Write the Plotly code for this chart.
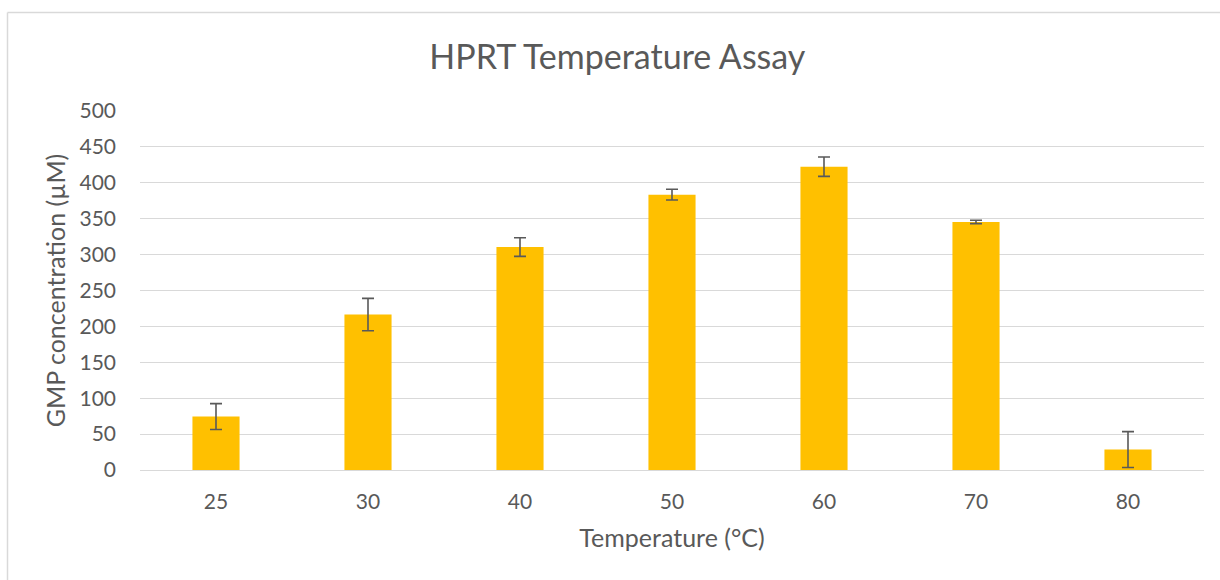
import plotly.graph_objects as go

# Assay results: mean GMP produced at each incubation temperature
temperatures = ["25", "30", "40", "50", "60", "70", "80"]
gmp_mean = [74.5, 216.5, 310.5, 383.5, 422.5, 345.5, 28.5]
gmp_err = [18, 22.5, 13, 7.5, 13.5, 2.3, 25]
y_ticks = [0, 50, 100, 150, 200, 250, 300, 350, 400, 450, 500]

W, H = 1220, 580
ML, MR, MT, MB = 140, 16, 111, 110
TEXT = "#595959"
GRID = "#d9d9d9"
FONT = "Lato, 'Open Sans', sans-serif"

fig = go.Figure(
    go.Bar(
        x=temperatures,
        y=gmp_mean,
        marker=dict(color="#FFC000", line=dict(width=0)),
        error_y=dict(
            type="data",
            array=gmp_err,
            visible=True,
            color=TEXT,
            thickness=1.6,
            width=6,
        ),
    )
)


def px_to_paper_x(px):
    return (px - ML) / (W - ML - MR)


def px_to_paper_y(py):
    return (H - MB - py) / (H - MT - MB)


# Thin chart-area frame along the top and left edges
frame = dict(color=GRID, width=1.5)
fig.add_shape(type="line", xref="paper", yref="paper",
              x0=px_to_paper_x(7.5), x1=px_to_paper_x(1225),
              y0=px_to_paper_y(12.5), y1=px_to_paper_y(12.5), line=frame)
fig.add_shape(type="line", xref="paper", yref="paper",
              x0=px_to_paper_x(7.5), x1=px_to_paper_x(7.5),
              y0=px_to_paper_y(12.5), y1=px_to_paper_y(585), line=frame)

fig.update_layout(
    width=W,
    height=H,
    margin=dict(l=ML, r=MR, t=MT, b=MB),
    paper_bgcolor="white",
    plot_bgcolor="white",
    bargap=0.69,
    showlegend=False,
    font=dict(family=FONT, color=TEXT, size=21),
    title=dict(
        text="HPRT Temperature Assay",
        x=0.506,
        xanchor="center",
        xref="container",
        y=1 - 57 / H,
        yanchor="middle",
        yref="container",
        font=dict(family=FONT, size=34, color=TEXT),
    ),
    xaxis=dict(
        type="category",
        showgrid=False,
        showline=False,
        ticks="",
        ticklabelstandoff=17,
        tickfont=dict(size=21, color=TEXT),
        title=dict(text="Temperature (°C)", font=dict(size=25, color=TEXT), standoff=17),
    ),
    yaxis=dict(
        range=[0, 500],
        tickvals=y_ticks,
        showgrid=True,
        gridcolor=GRID,
        gridwidth=1.4,
        zeroline=True,
        zerolinecolor=GRID,
        zerolinewidth=1.4,
        showline=False,
        ticks="",
        ticklabelstandoff=23,
        tickfont=dict(size=21, color=TEXT),
        title=dict(text="GMP concentration (µM)", font=dict(size=25, color=TEXT), standoff=6),
    ),
)

fig.write_html("out.html")
